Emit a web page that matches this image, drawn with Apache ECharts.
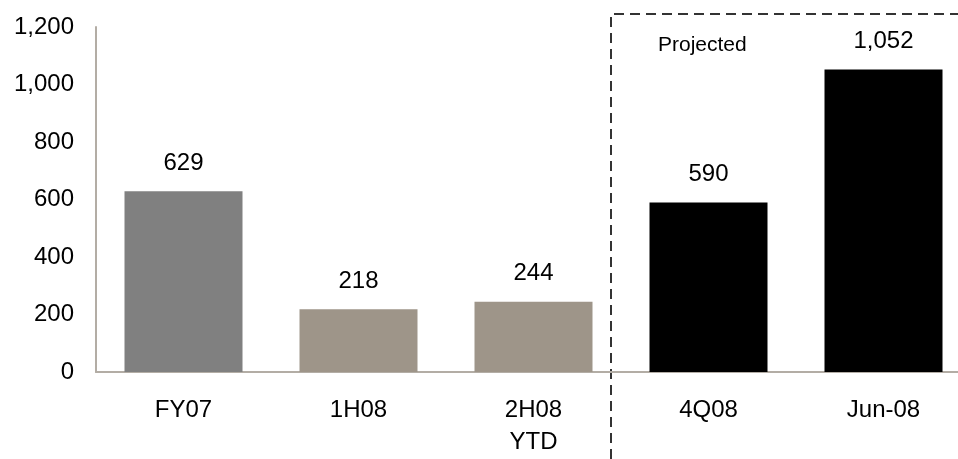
<!DOCTYPE html>
<html>
<head>
<meta charset="utf-8">
<script src="https://cdn.jsdelivr.net/npm/echarts@6/dist/echarts.min.js"></script>
<style>
html,body{margin:0;padding:0;background:#fff;}
#main{width:958px;height:459px;}
</style>
</head>
<body>
<div id="main"></div>
<script>
var categories = ['FY07', '1H08', '2H08\nYTD', '4Q08', 'Jun-08'];
var values = [629, 218, 244, 590, 1052];
var barColors = ['#808080', '#9e9589', '#9e9589', '#000000', '#000000'];
var yTicks = [0, 200, 400, 600, 800, 1000, 1200];

var chart = echarts.init(document.getElementById('main'));

var option = {
    animation: false,
    backgroundColor: '#fff',
    textStyle: {fontFamily: 'Liberation Sans, Arial, sans-serif'},
    grid: {left: 96, top: 27, width: 875, height: 345, outerBoundsMode: 'none', containLabel: false},
    xAxis: {
        type: 'category',
        data: categories,
        axisLine: {lineStyle: {color: '#b3ada5', width: 2}},
        axisTick: {show: false},
        axisLabel: {color: '#000', fontSize: 24, margin: 22, lineHeight: 32}
    },
    yAxis: {
        type: 'value',
        min: yTicks[0],
        max: yTicks[yTicks.length - 1],
        interval: 200,
        axisLine: {show: true, lineStyle: {color: '#b3ada5', width: 2}},
        axisTick: {show: false},
        splitLine: {show: false},
        axisLabel: {
            color: '#000', fontSize: 24, margin: 22,
            formatter: function (v) { return v.toLocaleString('en-US'); }
        }
    },
    series: [{
        type: 'bar',
        barWidth: 118,
        data: values.map(function (v, i) {
            return {value: v, itemStyle: {color: barColors[i]}};
        }),
        label: {
            show: true,
            position: 'top',
            distance: 16,
            color: '#000',
            fontSize: 24,
            formatter: function (p) { return p.value.toLocaleString('en-US'); }
        }
    }],
    graphic: [
        {
            type: 'polyline',
            shape: {points: [[611, 459], [611, 14], [958, 14]]},
            style: {stroke: '#333', lineWidth: 2, lineDash: [10, 6], fill: null}
        },
        {
            type: 'text',
            left: 658,
            top: 35,
            style: {text: 'Projected', fill: '#000', fontSize: 21, fontFamily: 'Liberation Sans, Arial, sans-serif'}
        }
    ]
};

chart.setOption(option);
</script>
</body>
</html>
